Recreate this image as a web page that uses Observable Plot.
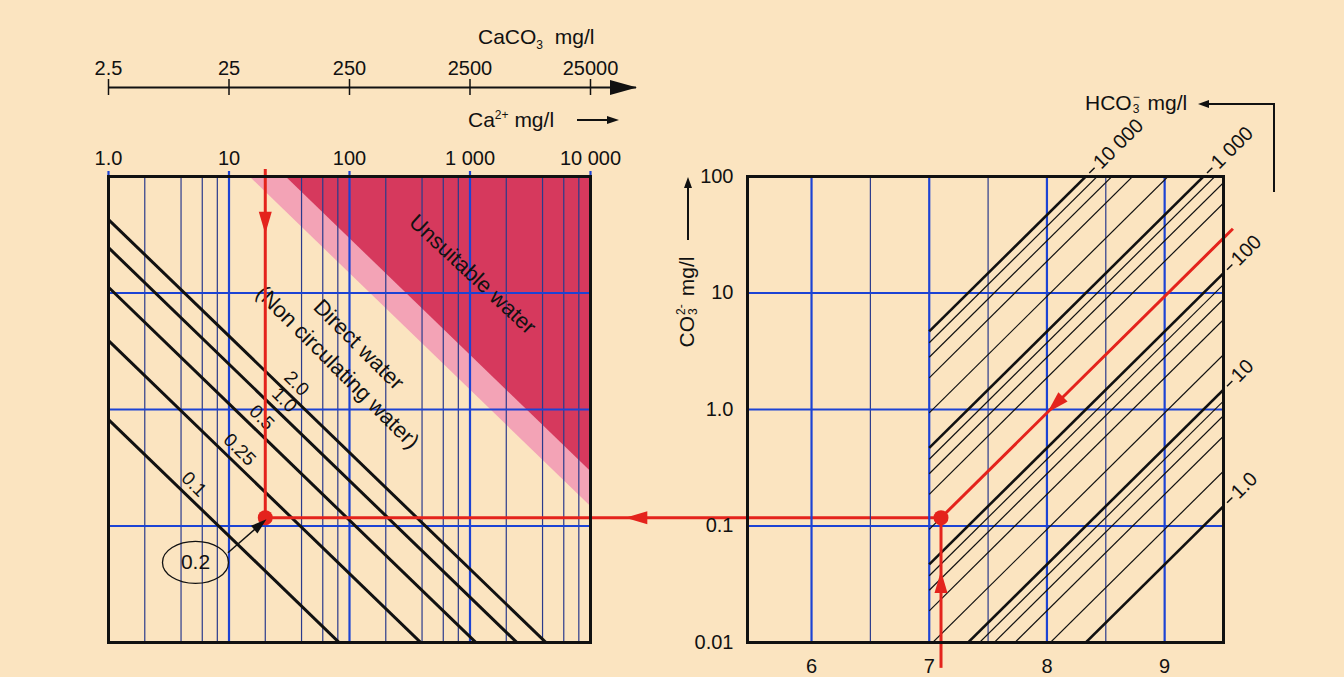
<!DOCTYPE html>
<html>
<head>
<meta charset="utf-8">
<script src="https://cdn.jsdelivr.net/npm/d3@7"></script>
<script src="https://cdn.jsdelivr.net/npm/@observablehq/plot@0.6"></script>
<style>
  html, body { margin: 0; padding: 0; background: #fbe4c0; }
  #wrap { position: relative; width: 1344px; height: 677px; overflow: hidden; background: #fbe4c0;
          font-family: "Liberation Sans", Arial, Helvetica, sans-serif; color: #111; }
  #wrap svg { position: absolute; left: 0; top: 0; }
  .ttl { position: absolute; font-size: 21px; line-height: 20px; white-space: nowrap; }
  .ttl sub { font-size: 12px; vertical-align: -5px; line-height: 0; }
  .ttl sup { font-size: 12px; vertical-align: 8px; line-height: 0; }
  .stk { position: relative; display: inline-block; height: 12px; font-size: 12px; line-height: 12px; margin: 0 1px; }
  .stk .up { position: absolute; left: 0; top: -7px; }
  .stk .dn { position: absolute; left: 0; top: 5px; }
  .ln { position: absolute; background: #111; }
  .hd { position: absolute; width: 0; height: 0; }
</style>
</head>
<body>
<div id="wrap"></div>
<script>
// ---------------- data ----------------
const caTicks = [1, 10, 100, 1000, 10000];
const caTickLabels = ["1.0", "10", "100", "1 000", "10 000"];
const caMinor = [2, 4, 6, 8, 20, 40, 60, 80, 200, 400, 600, 800, 2000, 4000, 6000, 8000];
const caco3Ticks = [2.5, 25, 250, 2500, 25000];
const caco3Labels = ["2.5", "25", "250", "2500", "25000"];
const co3Ticks = [0.01, 0.1, 1, 10, 100];
const co3Labels = ["0.01", "0.1", "1.0", "10", "100"];
const co3Grid = [0.1, 1, 10];
// left panel: diagonal lines (Ca x CO3 constant along each line)
const sLabels = ["0.1", "0.25", "0.5", "1.0", "2.0"];
const sProducts = [0.82, 3.9, 11.2, 24.5, 42.7];
const sLabelCa = [4.3, 10.3, 15.7, 24.3, 30.6];
// unsuitable water: light band lower bound, dark region lower bound (Ca x CO3)
const unsuitableBounds = [1480, 2950];
// right panel
const phTicks = [6, 7, 8, 9];
const phTickLabels = ["6", "7", "8", "9"];
const phMinor = [6.5, 7.5, 8.5];
const hco3Decades = [1, 10, 100, 1000, 10000];
const hco3DecadeLabels = ["1.0", "10", "100", "1 000", "10 000"];
const hco3Minor = [2, 4, 6, 8, 20, 40, 60, 80, 200, 400, 600, 800, 2000, 4000, 6000, 8000];
const pK = 10.33;          // log CO3 = log HCO3 + pH - pK
const hatchStartPH = 7;
// worked example path
const pathCa = 20, pathCO3 = 0.118, pathPH = 7.1, pathHCO3 = 200;
const pathStartCO3 = 0.006, pathEndPH = 9.58;
const arrowsLeft = [{ca: 20, co3: 40, dir: 180}, {ca: 24000, co3: 0.118, dir: 270}];
const arrowsRight = [{ph: 7.1, co3: 0.033, dir: 0}, {ph: 8.07, co3: 200 * 10 ** (8.07 - 10.33), dir: 225}];
const resultLabel = "0.2", resultCa = 5.27, resultCO3 = 0.0487;
const pointerFrom = [9.8, 0.059], pointerTo = [18.2, 0.103];

// ---------------- layout / style ----------------
const W = 1344, H = 677;
const FONT = '"Liberation Sans", Arial, Helvetica, sans-serif';
const BLUE = "#1c43d4", NAVY = "#2a3a8c", RED = "#e4231c", DARK = "#d6395d", LIGHT = "#f3a3b6";
const L = {left: 108, right: 590}, R = {left: 747, right: 1223}, TOP = 176, BOT = 642;
const CA_DOMAIN = [1, 10000], CO3_DOMAIN = [0.01, 100], PH_DOMAIN = [5.456, 9.5];
const baseStyle = {background: "transparent", fontFamily: FONT, fontSize: "20px", color: "#111", overflow: "visible"};

const tri = (len, wid) => ({draw(ctx) { ctx.moveTo(0, -len / 2); ctx.lineTo(wid / 2, len / 2); ctx.lineTo(-wid / 2, len / 2); ctx.closePath(); }});
const ellipse = (rx, ry) => ({draw(ctx) {
  const k = 0.5523;
  ctx.moveTo(rx, 0);
  ctx.bezierCurveTo(rx, k * ry, k * rx, ry, 0, ry);
  ctx.bezierCurveTo(-k * rx, ry, -rx, k * ry, -rx, 0);
  ctx.bezierCurveTo(-rx, -k * ry, -k * rx, -ry, 0, -ry);
  ctx.bezierCurveTo(k * rx, -ry, rx, -k * ry, rx, 0);
  ctx.closePath();
}});

// ---------------- right panel ----------------
const exitPH = h => Math.min(PH_DOMAIN[1], Math.log10(CO3_DOMAIN[1]) - Math.log10(h) + pK);
const co3At = (h, ph) => h * 10 ** (ph - pK);

const right = Plot.plot({
  width: W, height: H,
  marginLeft: R.left, marginRight: W - R.right, marginTop: TOP, marginBottom: H - BOT,
  x: {domain: PH_DOMAIN, label: null},
  y: {type: "log", domain: CO3_DOMAIN, label: null},
  style: baseStyle,
  marks: [
    Plot.ruleX(phMinor, {stroke: NAVY, strokeWidth: 1.2}),
    Plot.ruleX(phTicks, {stroke: BLUE, strokeWidth: 2.2}),
    Plot.ruleY(co3Grid, {stroke: BLUE, strokeWidth: 2.2}),
    Plot.link(hco3Minor, {x1: hatchStartPH, y1: h => co3At(h, hatchStartPH), x2: PH_DOMAIN[1], y2: h => co3At(h, PH_DOMAIN[1]), stroke: "#111", strokeWidth: 1.2, clip: true}),
    Plot.link(hco3Decades, {x1: hatchStartPH, y1: h => co3At(h, hatchStartPH), x2: PH_DOMAIN[1], y2: h => co3At(h, PH_DOMAIN[1]), stroke: "#111", strokeWidth: 2.6, clip: true}),
    Plot.link(hco3Decades, {x1: h => exitPH(h) + 0.03, y1: h => co3At(h, exitPH(h) + 0.03), x2: h => exitPH(h) + 0.075, y2: h => co3At(h, exitPH(h) + 0.075), stroke: "#111", strokeWidth: 1.5}),
    Plot.text(hco3Decades, {x: h => exitPH(h), y: h => co3At(h, exitPH(h)), text: (h, i) => hco3DecadeLabels[i], rotate: -45, textAnchor: "start", dx: 11, dy: -11, fontSize: 20}),
    Plot.axisY(co3Ticks, {anchor: "left", label: null, tickSize: 0, tickPadding: 14, tickFormat: d => co3Labels[co3Ticks.indexOf(d)]}),
    Plot.axisX(phTicks, {anchor: "bottom", label: null, tickSize: 0, tickPadding: 16, tickFormat: d => phTickLabels[phTicks.indexOf(d)]}),
    // worked example
    Plot.ruleX([pathPH], {y1: pathCO3, y2: pathStartCO3, stroke: RED, strokeWidth: 3}),
    Plot.link([pathHCO3], {x1: pathPH, y1: h => co3At(h, pathPH), x2: pathEndPH, y2: h => co3At(h, pathEndPH), stroke: RED, strokeWidth: 3}),
    Plot.dot(arrowsRight, {x: "ph", y: "co3", rotate: "dir", symbol: tri(22, 13), fill: RED, stroke: null}),
    Plot.dot([0], {x: pathPH, y: pathCO3, r: 7.5, fill: RED}),
    Plot.frame({stroke: "#111", strokeWidth: 3})
  ]
});

// ---------------- left panel ----------------
const leftX = Plot.scale({x: {type: "log", domain: CA_DOMAIN, range: [L.left, L.right]}});
const connectorEndCa = leftX.invert(right.scale("x").apply(pathPH));

const lightArea = [unsuitableBounds[0] / CO3_DOMAIN[1], CA_DOMAIN[1]].map(ca => ({ca, lo: unsuitableBounds[0] / ca}));
const darkArea = [unsuitableBounds[1] / CO3_DOMAIN[1], CA_DOMAIN[1]].map(ca => ({ca, lo: unsuitableBounds[1] / ca}));

const left = Plot.plot({
  width: W, height: H,
  marginLeft: L.left, marginRight: W - L.right, marginTop: TOP, marginBottom: H - BOT,
  x: {type: "log", domain: CA_DOMAIN, label: null},
  y: {type: "log", domain: CO3_DOMAIN, axis: null, label: null},
  style: baseStyle,
  marks: [
    Plot.areaY(lightArea, {x: "ca", y1: "lo", y2: CO3_DOMAIN[1], fill: LIGHT}),
    Plot.areaY(darkArea, {x: "ca", y1: "lo", y2: CO3_DOMAIN[1], fill: DARK}),
    Plot.ruleX(caMinor, {stroke: NAVY, strokeWidth: 1.2}),
    Plot.ruleX(caTicks, {stroke: BLUE, strokeWidth: 2.2, insetTop: -5}),
    Plot.ruleY(co3Grid, {stroke: BLUE, strokeWidth: 2.2}),
    Plot.link(sProducts, {x1: CA_DOMAIN[0], y1: p => p / CA_DOMAIN[0], x2: CA_DOMAIN[1], y2: p => p / CA_DOMAIN[1], stroke: "#111", strokeWidth: 3, clip: true}),
    Plot.text(sLabels, {x: (d, i) => sLabelCa[i], y: (d, i) => sProducts[i] / sLabelCa[i], text: d => d, rotate: 45, dx: 9, dy: -9, fontSize: 19}),
    Plot.text(["Direct water"], {x: 119, y: 3.6, rotate: 45, fontSize: 22}),
    Plot.text(["(Non circulating water)"], {x: 79.5, y: 2.3, rotate: 45, fontSize: 22}),
    Plot.text(["Unsuitable water"], {x: 1050, y: 14.4, rotate: 43, fontSize: 22}),
    Plot.axisX(caTicks, {anchor: "top", label: null, tickSize: 0, tickPadding: 12, tickFormat: d => caTickLabels[caTicks.indexOf(d)]}),
    // worked example
    Plot.ruleX([pathCa], {y1: CO3_DOMAIN[1], y2: pathCO3, stroke: RED, strokeWidth: 3, insetTop: -7}),
    Plot.ruleY([pathCO3], {x1: pathCa, x2: connectorEndCa, stroke: RED, strokeWidth: 3}),
    Plot.dot(arrowsLeft, {x: "ca", y: "co3", rotate: "dir", symbol: tri(22, 13), fill: RED, stroke: null}),
    Plot.dot([0], {x: pathCa, y: pathCO3, r: 7.5, fill: RED}),
    Plot.link([0], {x1: pointerFrom[0], y1: pointerFrom[1], x2: pointerTo[0], y2: pointerTo[1], stroke: "#111", strokeWidth: 1.5}),
    Plot.dot([0], {x: pointerTo[0], y: pointerTo[1], rotate: 50, symbol: tri(16, 10), fill: "#111", stroke: null}),
    Plot.dot([0], {x: resultCa, y: resultCO3, symbol: ellipse(33, 21), fill: "none", stroke: "#111", strokeWidth: 1.3}),
    Plot.text([resultLabel], {x: resultCa, y: resultCO3, fontSize: 21}),
    Plot.frame({stroke: "#111", strokeWidth: 3})
  ]
});

// ---------------- CaCO3 arrow axis ----------------
const caco3 = Plot.plot({
  width: W, height: H,
  marginLeft: L.left, marginRight: W - 636, marginTop: 79, marginBottom: H - 95,
  x: {type: "log", domain: [caco3Ticks[0], caco3Ticks[caco3Ticks.length - 1]], range: [L.left, L.right], axis: null, label: null},
  y: {domain: [0, 1], axis: null, label: null},
  style: baseStyle,
  marks: [
    Plot.ruleY([0.5], {stroke: "#111", strokeWidth: 2}),
    Plot.tickX(caco3Ticks, {x: d => d, stroke: "#111", strokeWidth: 1.5}),
    Plot.dot([0], {frameAnchor: "right", dx: -13, rotate: 90, symbol: tri(27, 15), fill: "#111", stroke: null}),
    Plot.text(caco3Ticks, {x: d => d, text: (d, i) => caco3Labels[i], frameAnchor: "top", dy: -19, fontSize: 20})
  ]
});

const wrap = document.getElementById("wrap");
wrap.append(left, right, caco3);

// ---------------- axis titles and pointers (HTML) ----------------
wrap.insertAdjacentHTML("beforeend", `
  <div class="ttl" style="left:478px;top:27px">CaCO<sub>3</sub>&nbsp;&nbsp;mg/l</div>
  <div class="ttl" style="left:468px;top:110px">Ca<sup>2+</sup> mg/l</div>
  <div class="ln" style="left:577px;top:119px;width:33px;height:1.6px"></div>
  <div class="hd" style="left:607px;top:115.5px;border-left:12px solid #111;border-top:4.3px solid transparent;border-bottom:4.3px solid transparent"></div>
  <div class="ttl" style="left:1085px;top:93px">HCO<span class="stk" style="width:8px"><span class="up">&#8722;</span><span class="dn">3</span></span> mg/l</div>
  <div class="ln" style="left:1273px;top:103px;width:1.6px;height:89px"></div>
  <div class="ln" style="left:1207px;top:103px;width:67px;height:1.6px"></div>
  <div class="hd" style="left:1198px;top:99.5px;border-right:11px solid #111;border-top:4.3px solid transparent;border-bottom:4.3px solid transparent"></div>
  <div class="ttl" style="left:687px;top:302px;transform:translate(-50%,-50%) rotate(-90deg)">CO<span class="stk" style="width:12px"><span class="up">2-</span><span class="dn">3</span></span> mg/l</div>
  <div class="ln" style="left:687px;top:187px;width:1.6px;height:53px"></div>
  <div class="hd" style="left:683.5px;top:177px;border-bottom:11px solid #111;border-left:4.3px solid transparent;border-right:4.3px solid transparent"></div>
`);
</script>
</body>
</html>
